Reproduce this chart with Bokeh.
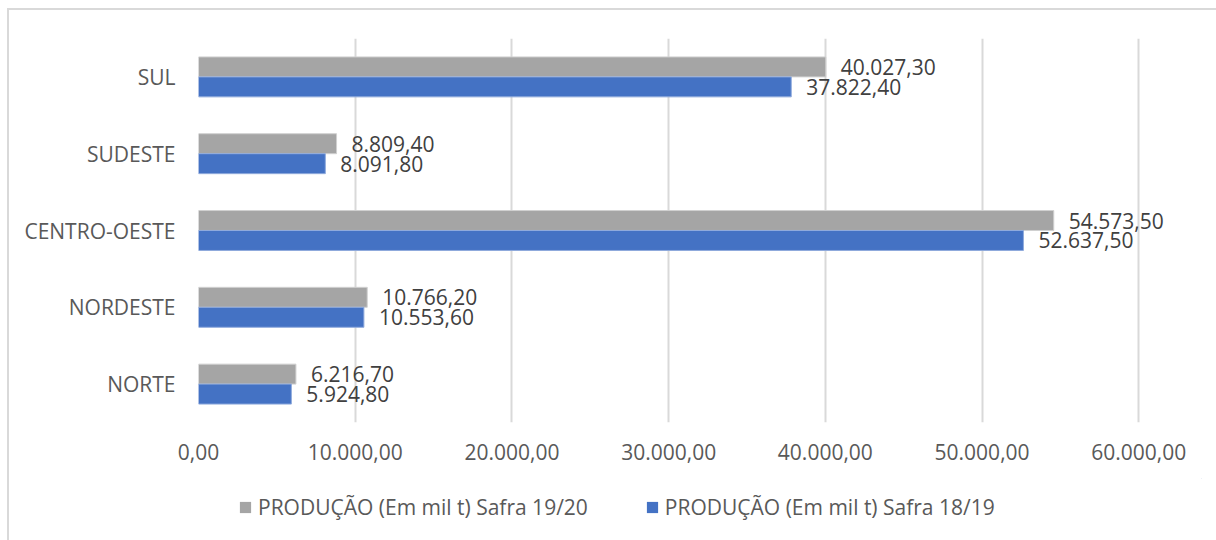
from bokeh.plotting import figure
from bokeh.layouts import column
from bokeh.models import ColumnDataSource, Range1d, FactorRange, FixedTicker, Legend, LegendItem
from bokeh.transform import dodge
from bokeh.core.properties import value
from bokeh.embed import file_html
from bokeh.resources import INLINE

regions = ["NORTE", "NORDESTE", "CENTRO-OESTE", "SUDESTE", "SUL"]
safra_1920 = [6216.70, 10766.20, 54573.50, 8809.40, 40027.30]
safra_1819 = [5924.80, 10553.60, 52637.50, 8091.80, 37822.40]
series_names = ["PRODUÇÃO (Em mil t) Safra 19/20", "PRODUÇÃO (Em mil t) Safra 18/19"]
x_ticks = [0, 10000, 20000, 30000, 40000, 50000, 60000]
x_tick_labels = ["0,00", "10.000,00", "20.000,00", "30.000,00", "40.000,00", "50.000,00", "60.000,00"]


def br(v):
    s = f"{v:,.2f}"
    return s.replace(",", "X").replace(".", ",").replace("X", ".")


FONT = "Open Sans"
FS = "21px"
GRAY = "#a5a5a5"
BLUE = "#4472c4"
W = 1207

src = ColumnDataSource(dict(
    cat=regions,
    a=safra_1920, b=safra_1819,
    la=[br(v) for v in safra_1920],
    lb=[br(v) for v in safra_1819],
))

# main chart; frame runs a little past 60.000 so the longest data label is not clipped
p = figure(width=W, height=468, output_backend="svg", toolbar_location=None,
           y_range=FactorRange(*regions), x_range=Range1d(0, 64000),
           min_border_left=189, min_border_right=W - 189 - 1003, min_border_top=28,
           min_border_bottom=56)
p.outline_line_color = None
p.background_fill_color = "white"
p.border_fill_color = "white"

r1 = p.hbar(y=dodge("cat", 0.13, range=p.y_range), right="a", left=0, height=0.26,
            source=src, fill_color=GRAY, line_color="#d0d0d0", line_width=1)
r2 = p.hbar(y=dodge("cat", -0.13, range=p.y_range), right="b", left=0, height=0.26,
            source=src, fill_color=BLUE, line_color="#8faadc", line_width=1)

p.text(x="a", y=dodge("cat", 0.13, range=p.y_range), text="la", source=src,
       x_offset=15, text_align="left", text_baseline="middle",
       text_font=value(FONT), text_font_size=FS, text_color="#404040")
p.text(x="b", y=dodge("cat", -0.13, range=p.y_range), text="lb", source=src,
       x_offset=15, text_align="left", text_baseline="middle",
       text_font=value(FONT), text_font_size=FS, text_color="#404040")

p.xaxis.ticker = FixedTicker(ticks=x_ticks)
p.xaxis.major_label_overrides = {t: l for t, l in zip(x_ticks, x_tick_labels)}
p.xgrid.ticker = FixedTicker(ticks=x_ticks)
p.xgrid.grid_line_color = "#d9d9d9"
p.xgrid.grid_line_width = 2
p.ygrid.grid_line_color = None

for ax in (p.xaxis, p.yaxis):
    ax.axis_line_color = None
    ax.major_tick_line_color = None
    ax.minor_tick_line_color = None
    ax.major_label_text_font = FONT
    ax.major_label_text_font_size = FS
    ax.major_label_text_color = "#595959"
p.xaxis.major_label_standoff = 15
p.yaxis.major_label_standoff = 17

# legend strip below the chart (its frame is aligned with the chart's frame by the column)
p2 = figure(width=W, height=62, output_backend="svg", toolbar_location=None,
            x_axis_type=None, y_axis_type=None, x_range=Range1d(0, 1), y_range=Range1d(0, 1),
            min_border_left=0, min_border_right=0, min_border_top=0, min_border_bottom=0)
p2.outline_line_color = None
p2.background_fill_color = "white"
p2.border_fill_color = "white"
# legend keys: one off-screen swatch per series, only used to draw the legend squares
key_src = ColumnDataSource(dict(y=[5], right=[5]))
k1 = p2.hbar(y="y", right="right", left=4, height=1, source=key_src, fill_color=GRAY, line_color=None)
k2 = p2.hbar(y="y", right="right", left=4, height=1, source=key_src, fill_color=BLUE, line_color=None)
legend = Legend(items=[LegendItem(label=series_names[0], renderers=[k1]),
                       LegendItem(label=series_names[1], renderers=[k2])],
                orientation="horizontal", location=(40, 19),
                label_text_font=FONT, label_text_font_size=FS, label_text_color="#595959",
                label_height=28, glyph_width=14, glyph_height=14, label_standoff=6, spacing=57,
                border_line_color=None, background_fill_alpha=0, margin=0, padding=0)
p2.add_layout(legend, "center")

layout = column(p, p2, spacing=0)
layout.margin = (8, 0, 0, 7)
layout.styles = {"border-top": "2px solid #d9d9d9", "border-left": "2px solid #d9d9d9"}

open("out.html", "w").write(file_html(layout, INLINE))
